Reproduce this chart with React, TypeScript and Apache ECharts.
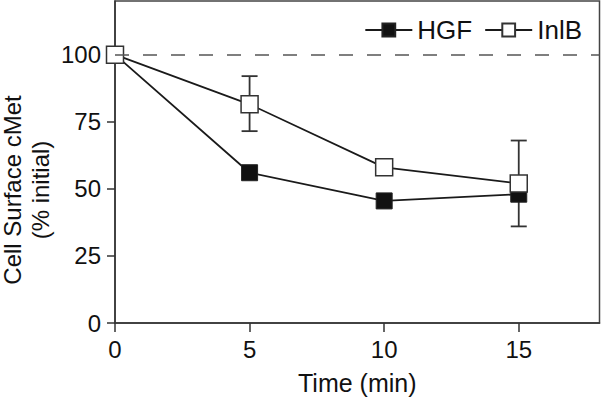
import React, { useEffect, useRef } from "react";
import * as echarts from "echarts";

const timePoints = [0, 5, 10, 15];
const hgfValues = [100, 56, 45.5, 48];
const inlbValues = [100, 81.5, 58, 52];
const errTimes = [5, 15];
const errLow = [71.5, 36];
const errHigh = [92, 68];
const xTicks = [0, 5, 10, 15];
const yTicks = [0, 25, 50, 75, 100];

const FONT = "'Liberation Sans', Arial, sans-serif";

export default function App() {
  const ref = useRef<HTMLDivElement>(null);
  useEffect(() => {
    if (!ref.current) return;
    const chart = echarts.init(ref.current, undefined, { renderer: "svg" });
    const errData = errTimes.map((t, i) => [t, errLow[i], errHigh[i]]);
    chart.setOption({
      animation: false,
      backgroundColor: "#ffffff",
      textStyle: { fontFamily: FONT },
      grid: {
        left: 115,
        right: 1.5,
        top: 1,
        bottom: 78,
        show: true,
        borderColor: "#444",
        borderWidth: 1.5,
        backgroundColor: "transparent",
      },
      legend: {
        data: ["HGF", "InlB"],
        right: 14,
        top: 12,
        itemWidth: 47,
        itemHeight: 16,
        itemGap: 12,
        textStyle: { fontSize: 26, color: "#111", fontFamily: FONT },
      },
      graphic: [
        {
          type: "text",
          x: 26,
          y: 190,
          rotation: Math.PI / 2,
          style: {
            text: "Cell Surface cMet\n(% initial)",
            align: "center",
            verticalAlign: "middle",
            fontSize: 24,
            lineHeight: 28,
            fontFamily: FONT,
            fill: "#111",
          },
        },
      ],
      xAxis: {
        type: "value",
        min: 0,
        max: 18,
        interval: 5,
        name: "Time (min)",
        nameLocation: "middle",
        nameGap: 47,
        nameTextStyle: { fontSize: 25, color: "#111", fontFamily: FONT },
        axisLine: { show: true, lineStyle: { color: "#333", width: 1.5 } },
        axisTick: {
          show: true,
          length: 9,
          lineStyle: { color: "#333", width: 1.5 },
          customValues: xTicks,
        },
        axisLabel: {
          fontSize: 24,
          color: "#111",
          margin: 14,
          fontFamily: FONT,
          customValues: xTicks,
        },
        splitLine: { show: false },
      },
      yAxis: {
        type: "value",
        min: 0,
        max: 120,
        interval: 25,
        axisLine: { show: true, lineStyle: { color: "#333", width: 1.5 } },
        axisTick: {
          show: true,
          length: 8,
          lineStyle: { color: "#333", width: 1.5 },
          customValues: yTicks,
        },
        axisLabel: {
          fontSize: 24,
          color: "#111",
          margin: 14,
          fontFamily: FONT,
          customValues: yTicks,
        },
        splitLine: { show: false },
      },
      series: [
        {
          type: "custom",
          name: "err",
          z: 1,
          data: errData,
          encode: { x: 0, y: [1, 2] },
          renderItem: (params: any, api: any) => {
            const x = api.value(0);
            const top = api.coord([x, api.value(2)]);
            const bot = api.coord([x, api.value(1)]);
            const hw = 8;
            const style = { stroke: "#333", lineWidth: 1.8 };
            return {
              type: "group",
              children: [
                { type: "line", shape: { x1: top[0], y1: top[1], x2: bot[0], y2: bot[1] }, style },
                { type: "line", shape: { x1: top[0] - hw, y1: top[1], x2: top[0] + hw, y2: top[1] }, style },
                { type: "line", shape: { x1: bot[0] - hw, y1: bot[1], x2: bot[0] + hw, y2: bot[1] }, style },
              ],
            };
          },
        },
        {
          type: "line",
          name: "HGF",
          z: 3,
          data: timePoints.map((t, i) => [t, hgfValues[i]]),
          symbol: "rect",
          symbolSize: 16,
          lineStyle: { color: "#1a1a1a", width: 1.8 },
          itemStyle: { color: "#111", borderColor: "#222", borderWidth: 1 },
          markLine: {
            silent: true,
            symbol: "none",
            label: { show: false },
            lineStyle: { color: "#555", width: 1.6, type: [14, 14] },
            data: [{ yAxis: 100 }],
          },
        },
        {
          type: "line",
          name: "InlB",
          z: 4,
          data: timePoints.map((t, i) => [t, inlbValues[i]]),
          symbol: "rect",
          symbolSize: 17,
          lineStyle: { color: "#1a1a1a", width: 1.8 },
          itemStyle: { color: "#ffffff", borderColor: "#333", borderWidth: 1.5 },
        },
      ],
    });
    return () => chart.dispose();
  }, []);
  return (
    <div
      ref={ref}
      style={{ position: "fixed", left: 0, top: 0, width: 601, height: 401 }}
    />
  );
}
